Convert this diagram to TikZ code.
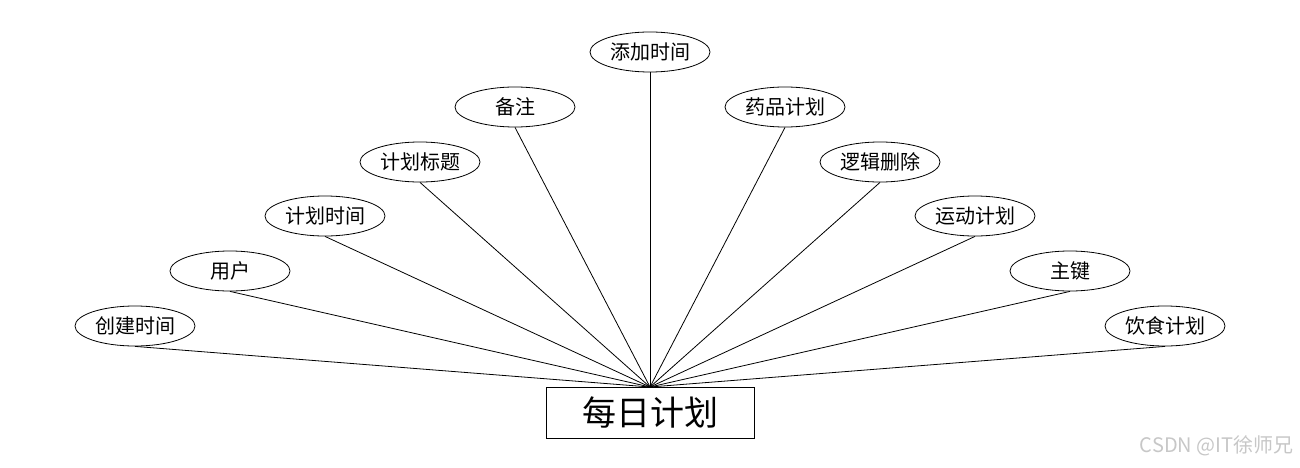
\documentclass[tikz,border=0pt]{standalone}
\usepackage{fontspec}
\setmainfont{Noto Sans CJK SC}
\usetikzlibrary{shapes.geometric}
\tikzset{
	attr/.style={draw, ellipse, line width=.8pt, minimum width=120pt, minimum height=40pt, inner sep=0pt, font=\fontsize{20}{20}\selectfont},
	entity/.style={draw, line width=.8pt, minimum width=208pt, minimum height=51pt, inner sep=0pt, font=\fontsize{34}{34}\selectfont},
	link/.style={line width=.8pt}
}
\begin{document}
\begin{tikzpicture}[x=1pt,y=-1pt]
	\useasboundingbox (0,0) rectangle (1300,468);

	\node[entity] (plan) at (650,412.5) {每日计划};
	\coordinate (hub) at (650,387);

	\node[attr] (a1) at (135,326) {创建时间};
	\node[attr] (a2) at (230,271) {用户};
	\node[attr] (a3) at (325,216) {计划时间};
	\node[attr] (a4) at (420,162) {计划标题};
	\node[attr] (a5) at (515,107) {备注};
	\node[attr] (a6) at (650,52) {添加时间};
	\node[attr] (a7) at (785,107) {药品计划};
	\node[attr] (a8) at (880,162) {逻辑删除};
	\node[attr] (a9) at (975,216) {运动计划};
	\node[attr] (a10) at (1070,271) {主键};
	\node[attr] (a11) at (1165,326) {饮食计划};

	\foreach \i in {1,...,11}
		\draw[link] (hub) -- (a\i.south);

	\node[text=black!22, font=\fontsize{20}{20}\selectfont, anchor=east] (mark) at (1297,446) {CSDN @IT徐师兄};
\end{tikzpicture}
\end{document}
